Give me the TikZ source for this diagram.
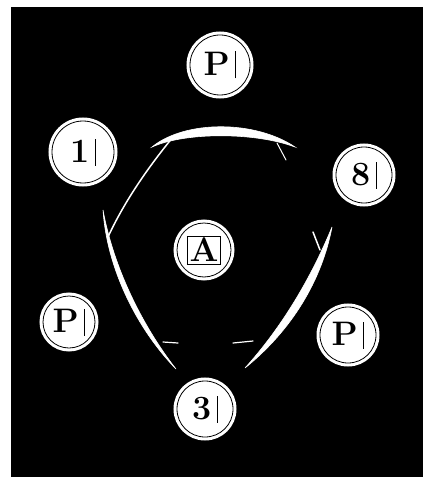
\documentclass[tikz,border=0pt]{standalone}
\begin{document}
\begin{tikzpicture}[x=1pt,y=-1pt,
  coin/.style={circle, fill=white, draw=black, line width=0.8pt,
    preaction={draw=white, line width=7pt}, minimum size=#1, inner sep=0pt,
    font=\rmfamily\bfseries\fontsize{34}{34}\selectfont},
  stroke/.style={white, line width=1.5pt, line cap=round},
  blade/.style={fill=white, draw=white, line width=0.6pt}]
\useasboundingbox (0,0) rectangle (429,481);
\fill[white] (0,0) rectangle (429,481);
\fill[black] (11,7) rectangle (423,477);
\newcommand{\vb}{\,\rule[-3pt]{0.9pt}{27pt}}
% curved blades
\path[blade] (152,147) .. controls (185,120) and (255,120) .. (295,147)
             .. controls (255,132) and (185,132) .. cycle;
\draw[stroke] (173,137) .. controls (150,165) and (125,200) .. (108,237);
\draw[stroke, line width=1pt] (277,143) -- (286,160);
\path[blade] (103,210) .. controls (107,270) and (138,330) .. (176,369)
             .. controls (144,328) and (114,270) .. cycle;
\path[blade] (332,227) .. controls (322,280) and (292,330) .. (245,368)
             .. controls (282,327) and (311,278) .. cycle;
\draw[stroke] (313,232) -- (320,250);
\draw[stroke, line width=1.2pt] (163,342) -- (178,343);
\draw[stroke, line width=1.2pt] (233,343) -- (253,341);
% coins
\node[coin=60] (ptop) at (220,65) {P\vb};
\node[coin=62] (one) at (83,152) {1\vb};
\node[coin=56] (eight) at (364,175) {8\vb};
\node[coin=54] (a) at (204,250) {\setlength{\fboxsep}{2pt}\setlength{\fboxrule}{0.6pt}\fbox{A}};
\node[coin=52] (pleft) at (69,322) {P\vb};
\node[coin=56] (pright) at (348,335) {P\vb};
\node[coin=56] (three) at (205,409) {3\vb};
\end{tikzpicture}
\end{document}
